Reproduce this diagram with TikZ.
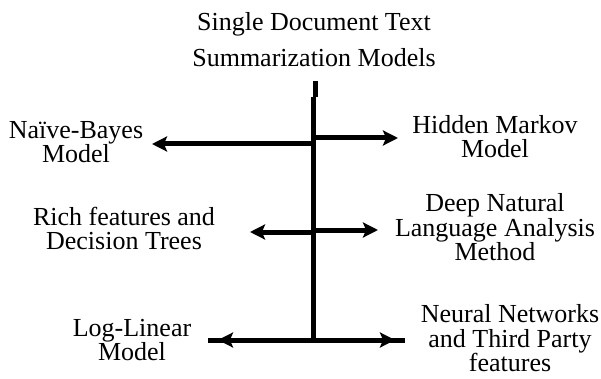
\documentclass[tikz,border=0pt]{standalone}
\usepackage{fontspec}
\setmainfont{Liberation Serif}
\usetikzlibrary{arrows.meta, positioning}
\tikzstyle{heading} = [align=center, inner sep=0pt, font=\rmfamily\fontsize{26}{36.5}\selectfont]
\tikzstyle{leaf} = [align=center, inner sep=0pt, font=\rmfamily\fontsize{26}{24.5}\selectfont]
\tikzstyle{trunk} = [line width=5pt]
\tikzstyle{branch} = [line width=5pt, -{Stealth[length=15pt, width=15pt, inset=3pt]}]

\begin{document}
\begin{tikzpicture}[x=1pt, y=-1pt]
	\useasboundingbox (0,0) rectangle (601,379);
	% labels
	\node (Title) [heading] at (314,39.5) {Single Document Text\\Summarization Models};
	\node (NaiveBayes) [leaf] at (76,142) {Naïve-Bayes\\Model};
	\node (HiddenMarkov) [leaf] at (495,136.5) {Hidden Markov\\Model};
	\node (RichFeatures) [leaf] at (124,228.5) {Rich features and\\Decision Trees};
	\node (DeepNatural) [leaf] at (495,227.5) {Deep Natural\\Language Analysis\\Method};
	\node (LogLinear) [leaf] at (132,340) {Log-Linear\\Model};
	\node (NeuralNets) [leaf] at (510,338.5) {Neural Networks\\and Third Party\\features};
	% trunk and its joints
	\coordinate (StubTop) at (315,81);
	\coordinate (StubEnd) at (315,97);
	\coordinate (TrunkTop) at (313.5,97);
	\coordinate (TrunkEnd) at (313.5,342.5);
	\coordinate (JoinNB) at (313.5,144);
	\coordinate (JoinHM) at (313.5,138);
	\coordinate (JoinRF) at (313.5,232);
	\coordinate (JoinDN) at (313.5,230);
	\coordinate (JoinBottom) at (313.5,340);
	% arrow tips
	\coordinate (TipNB) at (152,144);
	\coordinate (TipHM) at (398,138);
	\coordinate (TipRF) at (250,232);
	\coordinate (TipDN) at (378,230);
	\coordinate (TipLL) at (218,340);
	\coordinate (TipNN) at (395,340);
	\coordinate (BarLeft) at (208,340);
	\coordinate (BarRight) at (405,340);
	\draw [trunk] (StubTop) -- (StubEnd);
	\draw [trunk] (TrunkTop) -- (TrunkEnd);
	\draw [trunk] (BarLeft) -- (BarRight);
	\draw [branch] (JoinNB) -- (TipNB);
	\draw [branch] (JoinHM) -- (TipHM);
	\draw [branch] (JoinRF) -- (TipRF);
	\draw [branch] (JoinDN) -- (TipDN);
	\draw [branch] (JoinBottom) -- (TipLL);
	\draw [branch] (JoinBottom) -- (TipNN);
\end{tikzpicture}
\end{document}
